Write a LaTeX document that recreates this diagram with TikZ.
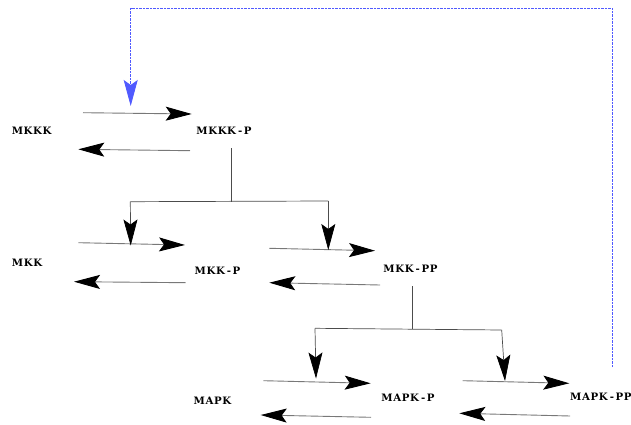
\documentclass[tikz,border=0pt]{standalone}
\usepackage{fontspec}
\newfontfamily\lblfont{DejaVu Serif}[LetterSpace=6]
\newcommand{\hy}{\kern2pt-\kern1.6pt}
\usetikzlibrary{arrows.meta}
\definecolor{fbblue}{RGB}{80,90,255}
\definecolor{rxgray}{RGB}{120,120,120}
\begin{document}
\begin{tikzpicture}[x=1pt,y=-1pt,
  lbl/.style={font=\lblfont\bfseries\fontsize{10.2}{12}\selectfont, inner sep=0pt, anchor=center},
  rx/.style={draw=rxgray, line width=0.9pt, -{Stealth[length=26pt,width=14pt,inset=5pt,fill=black,color=black]}},
  stem/.style={draw=black!70, line width=0.7pt},
  feedback/.style={draw=fbblue, line width=0.9pt, dash pattern=on 2.5pt off 1pt, -{Stealth[length=26pt,width=14pt,inset=5pt,fill=fbblue,color=fbblue]}}
]
\useasboundingbox (0,0) rectangle (631,425);
% labels
\node[lbl] (mkkk)  at (31.7,130.5)  {MKKK};
\node[lbl] (mkkkp) at (224,131) {MKKK\hy P};
\node[lbl] (mkk)   at (27,263)  {MKK};
\node[lbl] (mkkp)  at (217.5,271) {MKK\hy P};
\node[lbl] (mkkpp) at (410.5,269) {MKK\hy PP};
\node[lbl] (mapk)  at (212.5,401) {MAPK};
\node[lbl] (mapkp) at (408,398) {MAPK\hy P};
\node[lbl,anchor=west] (mapkpp) at (570,396.5) {MAPK\hy PP};
% coordinates of reaction arrows
\coordinate (a1s) at (83,112.7);   \coordinate (a1e) at (191.7,114);
\coordinate (b1s) at (190,150.7);  \coordinate (b1e) at (78.3,149.3);
\coordinate (a2s) at (78.3,242.7); \coordinate (a2e) at (185,245);
\coordinate (b2s) at (185.7,282.7);\coordinate (b2e) at (74,281.7);
\coordinate (a3s) at (269.3,248.3);\coordinate (a3e) at (375,250.7);
\coordinate (b3s) at (380,285);    \coordinate (b3e) at (269.3,282.7);
\coordinate (a4s) at (263.3,380.7);\coordinate (a4e) at (370.7,383.3);
\coordinate (b4s) at (371,417.3);  \coordinate (b4e) at (260.7,415);
\coordinate (a5s) at (462.7,380.7);\coordinate (a5e) at (569.3,383.3);
\coordinate (b5s) at (570,416);    \coordinate (b5e) at (459.3,413.3);
\draw[rx] (a1s) -- (a1e);
\draw[rx] (b1s) -- (b1e);
\draw[rx] (a2s) -- (a2e);
\draw[rx] (b2s) -- (b2e);
\draw[rx] (a3s) -- (a3e);
\draw[rx] (b3s) -- (b3e);
\draw[rx] (a4s) -- (a4e);
\draw[rx] (b4s) -- (b4e);
\draw[rx] (a5s) -- (a5e);
\draw[rx] (b5s) -- (b5e);
% catalysis by MKKK-P
\coordinate (s1t) at (231,148);
\coordinate (s1j) at (231,201.7);
\coordinate (s1l) at (130.3,201.7);
\coordinate (s1r) at (328.3,201);
\coordinate (s1lt) at (130.7,245.5);
\coordinate (s1rt) at (328.3,250);
\draw[stem] (s1t) -- (s1j);
\draw[stem] (s1l) -- (s1r);
\draw[rx,draw=black!70,line width=0.7pt] (s1l) -- (s1lt);
\draw[rx,draw=black!70,line width=0.7pt] (s1r) -- (s1rt);
% catalysis by MKK-PP
\coordinate (s2t) at (412,286);
\coordinate (s2j) at (412,329.3);
\coordinate (s2l) at (315,328.3);
\coordinate (s2r) at (501.7,330);
\coordinate (s2lt) at (316,378.5);
\coordinate (s2rt) at (505,381);
\draw[stem] (s2t) -- (s2j);
\draw[stem] (s2l) -- (s2r);
\draw[rx,draw=black!70,line width=0.7pt] (s2l) -- (s2lt);
\draw[rx,draw=black!70,line width=0.7pt] (s2r) -- (s2rt);
% feedback
\coordinate (fb0) at (612.5,367);
\coordinate (fb1) at (612.5,8.3);
\coordinate (fb2) at (130.7,8.3);
\coordinate (fb3) at (130.7,106);
\draw[feedback] (fb0) -- (fb1) -- (fb2) -- (fb3);
\end{tikzpicture}
\end{document}
